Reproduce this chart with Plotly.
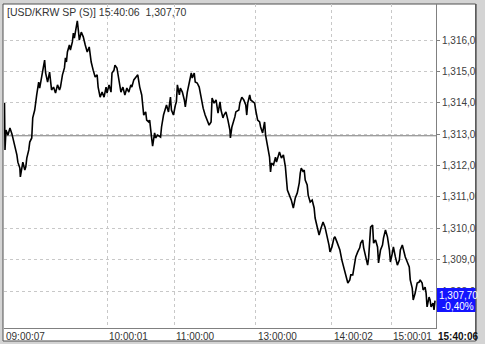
import plotly.graph_objects as go

# ---- data ----
tick_idx = [4, 4.5, 5, 6, 8, 10, 12, 13, 15, 17, 18, 20, 20.5, 22, 23, 25, 26, 27, 29, 30,
            32, 33, 35, 37, 39, 40, 42, 43, 44, 45, 46, 48, 50, 52, 54, 56, 58, 60, 61, 63,
            65, 66, 67, 68, 70, 71, 73, 74, 75, 77, 78, 79, 80, 82, 84, 86, 87, 88, 90, 92,
            94, 96, 98, 99, 101, 103, 105, 107, 108, 110, 112, 113, 115, 116, 118, 120, 122, 124, 126, 128,
            130, 132, 133, 135, 137, 139, 141, 143, 145, 147, 148, 150, 151, 152, 153, 154, 156, 157, 159, 162,
            163, 165, 167, 168, 170, 172, 173, 175, 177, 178, 179, 181, 182, 184, 186, 187, 189, 191, 193, 194,
            196, 197, 199, 201, 203, 205, 207, 209, 211, 213, 214, 216, 218, 220, 222, 223, 225, 226, 228, 230,
            232, 232.5, 234, 237, 238, 241, 242, 244, 246, 248, 249, 250, 252, 253, 255, 257, 258, 260, 262, 263,
            265, 267, 268, 270, 272, 273, 274, 276, 278, 279, 281, 282, 284, 286, 288, 289, 290, 292, 294, 296,
            298, 300, 302, 303, 304, 306, 307, 308, 310, 311, 313, 315, 317, 318, 320, 322, 324, 326, 328, 330,
            332, 333, 335, 337, 338, 340, 342, 343, 345, 347, 349, 351, 353, 354, 356, 357, 359, 361, 363, 364,
            366, 367, 369, 371, 372, 373, 374, 376, 377, 379, 381, 382, 384, 386, 387, 389, 391, 393, 394, 396,
            397, 399, 401, 403, 404, 406, 407, 409, 411, 413, 414, 416, 417, 419, 421, 423, 424, 426, 427, 429,
            430, 431, 433, 434, 435, 437, 438, 439]

price = [1313.29, 1313.99, 1312.50, 1313.13, 1312.97, 1313.20, 1313.01, 1312.88, 1312.56, 1312.34,
         1312.11, 1311.92, 1311.64, 1312.02, 1312.11, 1311.86, 1311.96, 1312.24, 1312.50, 1312.75,
         1312.88, 1313.52, 1313.77, 1314.25, 1314.66, 1314.47, 1314.82, 1315.04, 1315.30, 1315.36,
         1314.95, 1314.66, 1314.98, 1314.41, 1314.50, 1314.31, 1314.57, 1314.41, 1314.50, 1314.89,
         1315.11, 1315.43, 1315.30, 1315.62, 1315.84, 1315.68, 1315.94, 1316.22, 1316.06, 1316.38,
         1316.61, 1316.32, 1316.00, 1316.25, 1316.10, 1315.84, 1315.75, 1315.62, 1315.78, 1315.30,
         1315.04, 1314.82, 1314.89, 1314.50, 1314.18, 1314.34, 1314.18, 1314.50, 1314.31, 1314.57,
         1314.34, 1314.95, 1315.04, 1315.20, 1315.11, 1314.66, 1314.34, 1314.50, 1314.25, 1314.47,
         1314.34, 1314.57, 1314.50, 1314.73, 1314.82, 1314.89, 1314.50, 1314.25, 1313.61, 1313.71,
         1313.45, 1313.39, 1313.45, 1313.23, 1312.88, 1312.62, 1313.04, 1312.88, 1312.97, 1312.91,
         1313.23, 1313.61, 1313.83, 1313.93, 1313.71, 1314.18, 1313.77, 1313.61, 1313.93, 1314.03,
         1314.57, 1314.25, 1314.47, 1314.34, 1314.09, 1313.87, 1314.34, 1314.63, 1314.95, 1314.79,
         1314.95, 1314.66, 1314.63, 1314.50, 1314.15, 1313.83, 1313.61, 1313.45, 1313.29, 1313.39,
         1314.15, 1313.99, 1314.09, 1313.67, 1314.03, 1313.77, 1313.52, 1313.61, 1313.71, 1313.45,
         1313.13, 1312.88, 1313.23, 1313.55, 1313.71, 1313.77, 1313.99, 1314.18, 1314.09, 1313.93,
         1313.61, 1313.99, 1314.25, 1314.09, 1314.03, 1313.99, 1313.77, 1313.45, 1313.39, 1313.23,
         1313.04, 1313.39, 1312.97, 1312.59, 1312.27, 1311.80, 1312.08, 1312.02, 1312.27, 1312.11,
         1312.34, 1312.43, 1312.24, 1312.34, 1311.96, 1311.61, 1311.22, 1311.06, 1310.90, 1310.65,
         1310.97, 1311.13, 1311.45, 1311.76, 1311.92, 1311.80, 1311.86, 1311.54, 1311.38, 1311.06,
         1310.84, 1310.90, 1310.65, 1310.33, 1310.04, 1309.79, 1310.01, 1310.20, 1310.04, 1309.79,
         1309.47, 1309.25, 1309.41, 1309.69, 1309.73, 1309.57, 1309.41, 1309.31, 1308.99, 1308.74,
         1308.42, 1308.26, 1308.36, 1308.52, 1308.52, 1308.74, 1309.09, 1309.25, 1309.38, 1309.53,
         1309.63, 1309.38, 1309.06, 1308.83, 1309.06, 1309.53, 1310.04, 1310.11, 1309.53, 1309.63,
         1309.41, 1308.90, 1309.31, 1309.47, 1309.69, 1309.95, 1309.73, 1309.31, 1308.93, 1309.22,
         1309.41, 1309.09, 1308.83, 1308.99, 1309.31, 1309.47, 1309.31, 1309.09, 1308.93, 1308.77,
         1308.36, 1308.10, 1307.72, 1307.94, 1308.26, 1308.29, 1308.36, 1308.26, 1308.04, 1308.13,
         1307.94, 1307.50, 1307.81, 1307.72, 1307.50, 1307.62, 1307.40, 1307.70]

prev_close = 1312.95
last_price_text = "1,307,70"
change_text = "-0,40%"
title_text = "[USD/KRW SP (S)] 15:40:06\u00a0\u00a01,307,70"

time_tick_pos = [4, 108, 176, 258, 335, 395]
time_tick_text = ["09:00:07", "10:00:01", "11:00:00", "13:00:00", "14:00:02", "15:00:01"]
last_time_text = "15:40:06"

price_ticks = [1308, 1309, 1310, 1311, 1312, 1313, 1314, 1315, 1316]
price_tick_text = ["1,308,00", "1,309,00", "1,310,00", "1,311,00", "1,312,00",
                   "1,313,00", "1,314,00", "1,315,00", "1,316,00"]

if len(tick_idx) != len(price):
    raise SystemExit(f"length mismatch {len(tick_idx)} vs {len(price)}")

# ---- layout geometry ----
W, H = 485, 344
L, R, T, B = 4, 45, 4, 16
PW = W - L - R
PH = H - T - B


def px(xp):
    return (xp - L) / PW


def py(yp):
    return (H - B - yp) / PH


FONT = "Liberation Sans, Arial, sans-serif"
GRID = "#c8c8c8"

fig = go.Figure()
fig.add_trace(go.Scatter(x=tick_idx, y=price, mode="lines",
                         line=dict(color="black", width=1.6),
                         hoverinfo="skip"))

fig.update_layout(
    width=W, height=H,
    margin=dict(l=L, r=R, t=T, b=B, pad=0),
    paper_bgcolor="#d4d4d4",
    plot_bgcolor="white",
    showlegend=False,
    font=dict(family=FONT, size=10, color="#333333"),
)

fig.update_xaxes(range=[4, 440], tickvals=time_tick_pos[1:], showticklabels=False,
                 showgrid=True, gridcolor=GRID, griddash="dot", gridwidth=1,
                 zeroline=False, showline=True, linecolor="#808080", linewidth=1,
                 ticks="")
fig.update_yaxes(range=[1306.827, 1317.147], side="right", tickvals=price_ticks,
                 ticktext=price_tick_text, showgrid=True, gridcolor=GRID, griddash="dot",
                 gridwidth=1, zeroline=False, showline=True, linecolor="#808080", linewidth=1,
                 ticks="outside", ticklen=3, tickcolor="#808080",
                 tickfont=dict(family=FONT, size=10, color="#404040"))

shapes = [
    # white chart frame
    dict(type="rect", xref="paper", yref="paper", x0=px(3), x1=px(480), y0=py(341), y1=py(4),
         fillcolor="white", line=dict(color="#505050", width=1), layer="below"),
    # previous close line
    dict(type="line", xref="paper", yref="y", x0=0, x1=1, y0=prev_close, y1=prev_close,
         line=dict(color="#7a7a7a", width=1), layer="below"),
    # blue last price box
    dict(type="rect", xref="paper", yref="paper", x0=px(441), x1=px(480), y0=py(312), y1=py(288),
         fillcolor="#1414ff", line=dict(width=0), layer="above"),
    # right clipping border
    dict(type="rect", xref="paper", yref="paper", x0=px(480.5), x1=px(490), y0=py(345), y1=py(-1),
         fillcolor="#d4d4d4", line=dict(width=0), layer="above"),
    dict(type="line", xref="paper", yref="paper", x0=px(480.5), x1=px(480.5), y0=py(341), y1=py(4),
         line=dict(color="#505050", width=1), layer="above"),
]
fig.update_layout(shapes=shapes)

ann = []
ann.append(dict(text=title_text, xref="paper", yref="paper", x=px(5), y=py(12),
                xanchor="left", yanchor="middle", showarrow=False,
                font=dict(family=FONT, size=10.5, color="#333333")))
for pos, lab in zip(time_tick_pos, time_tick_text):
    ann.append(dict(text=lab, xref="x", yref="paper", x=pos, y=py(336),
                    xanchor="left", yanchor="middle", showarrow=False,
                    font=dict(family=FONT, size=10, color="#333333")))
ann.append(dict(text="<b>" + last_time_text + "</b>", xref="paper", yref="paper", x=px(440),
                y=py(336), xanchor="left", yanchor="middle", showarrow=False,
                font=dict(family=FONT, size=10, color="#111111")))
ann.append(dict(text=last_price_text, xref="paper", yref="paper", x=px(441), y=py(295),
                xanchor="left", yanchor="middle", showarrow=False,
                font=dict(family=FONT, size=10, color="white")))
ann.append(dict(text=change_text, xref="paper", yref="paper", x=px(444), y=py(306),
                xanchor="left", yanchor="middle", showarrow=False,
                font=dict(family=FONT, size=10, color="white")))
fig.update_layout(annotations=ann)

fig.write_html("out.html")
